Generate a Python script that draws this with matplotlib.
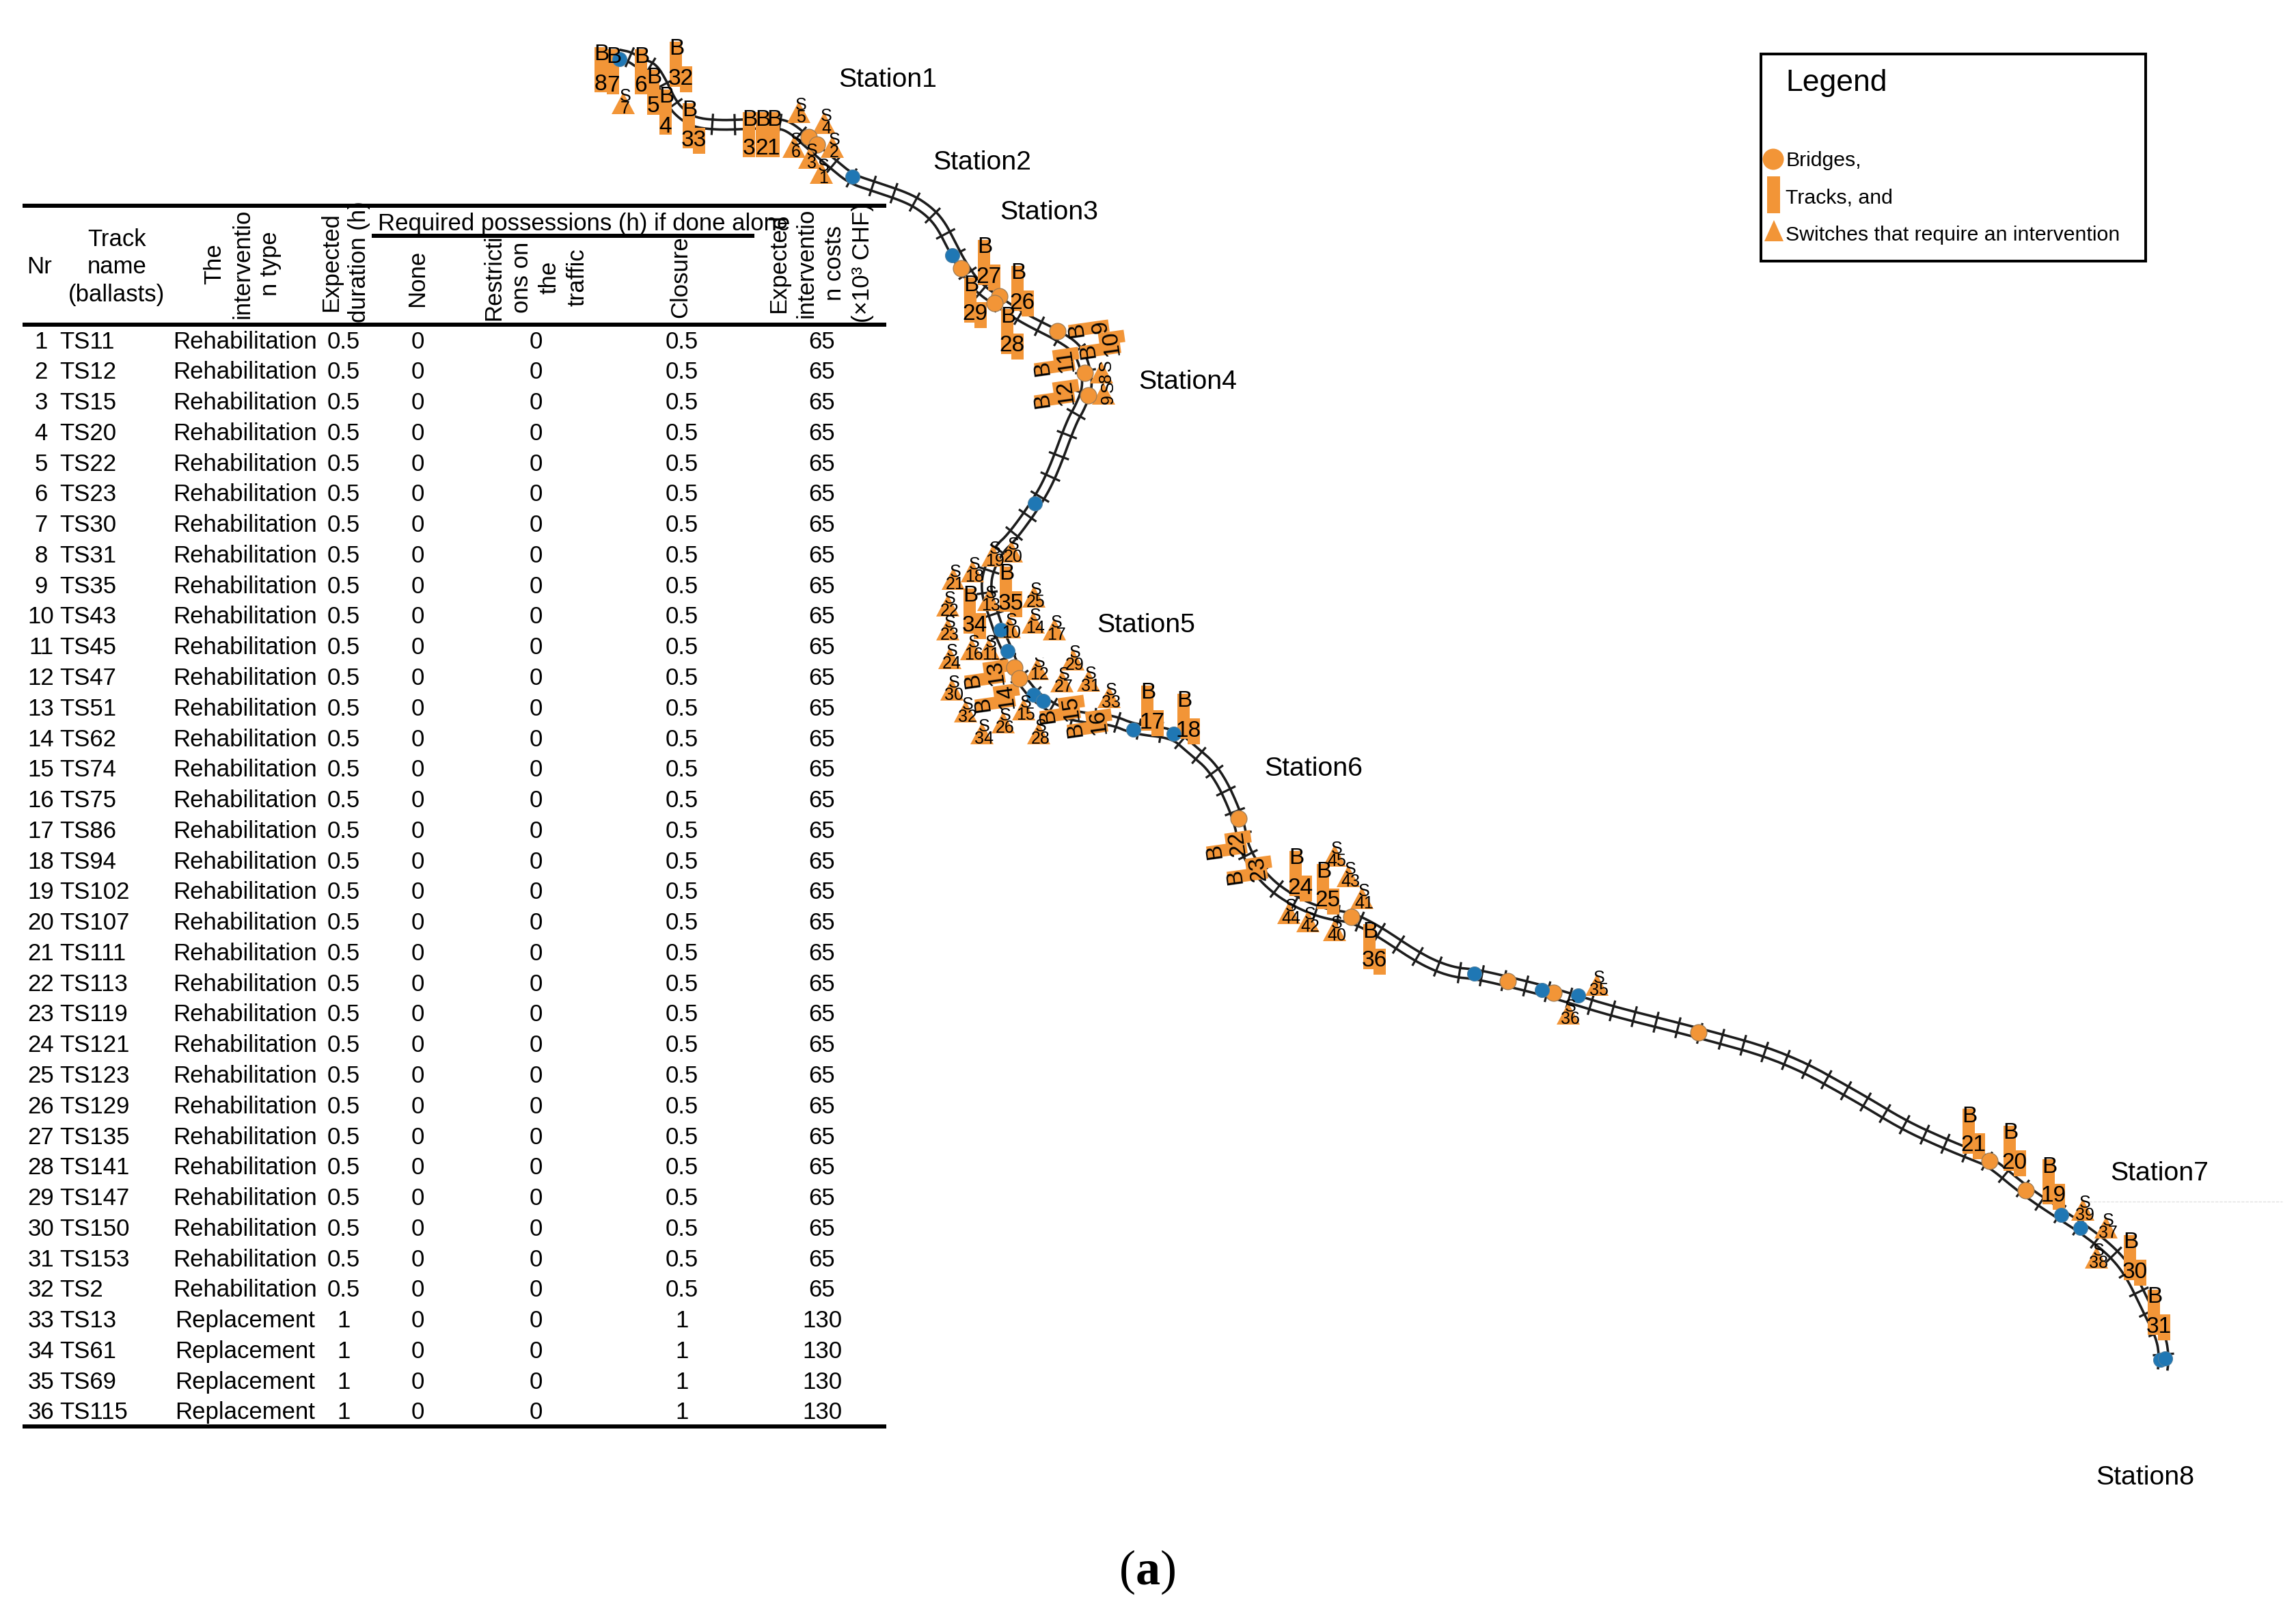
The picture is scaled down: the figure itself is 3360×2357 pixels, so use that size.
import numpy as np
import matplotlib
matplotlib.use("Agg")
import matplotlib.pyplot as plt
from matplotlib.patches import Polygon, Rectangle, Circle

plt.rcParams["font.family"] = ["Liberation Sans", "DejaVu Sans"]

ORANGE = "#F29537"
BLUE = "#1F77B4"
PX = 0.72  # one pixel in points at dpi 100

# table
track_names = ["TS11", "TS12", "TS15", "TS20", "TS22", "TS23", "TS30", "TS31", "TS35", "TS43",
               "TS45", "TS47", "TS51", "TS62", "TS74", "TS75", "TS86", "TS94", "TS102", "TS107",
               "TS111", "TS113", "TS119", "TS121", "TS123", "TS129", "TS135", "TS141", "TS147",
               "TS150", "TS153", "TS2", "TS13", "TS61", "TS69", "TS115"]
intervention = ["Rehabilitation"] * 32 + ["Replacement"] * 4
duration = ["0.5"] * 32 + ["1"] * 4
poss_none = ["0"] * 36
poss_restrict = ["0"] * 36
poss_closure = ["0.5"] * 32 + ["1"] * 4
costs = ["65"] * 32 + ["130"] * 4

# railway line, picture pixels
track_x = [907, 922, 936, 955, 970, 984, 1001, 1020, 1054, 1085, 1138, 1158, 1184, 1219, 1246, 1280,
           1330, 1357, 1376, 1393, 1407, 1430, 1463, 1500, 1547, 1577, 1588, 1592, 1580, 1568, 1539,
           1515, 1480, 1462, 1445, 1443, 1453, 1463, 1475, 1485, 1497, 1513, 1527, 1547, 1583, 1627,
           1660, 1717, 1740, 1780, 1813, 1820, 1850, 1890, 1937, 1978, 2017, 2063, 2097, 2130, 2158,
           2207, 2274, 2357, 2486, 2614, 2722, 2786, 2843, 2887, 2913, 2963, 3017, 3047, 3090, 3117,
           3143, 3163, 3167, 3165]
track_y = [80, 83, 93, 98, 123, 153, 170, 180, 183, 182, 180, 187, 210, 240, 262, 273,
           290, 307, 327, 360, 387, 420, 443, 467, 490, 510, 537, 567, 597, 617, 696,
           739, 787, 803, 837, 867, 897, 927, 953, 980, 997, 1017, 1027, 1040, 1050, 1053,
           1067, 1073, 1093, 1127, 1198, 1243, 1287, 1317, 1337, 1342, 1362, 1393, 1412, 1423, 1425,
           1436, 1453, 1479, 1511, 1547, 1607, 1646, 1672, 1690, 1700, 1742, 1778, 1797, 1830, 1863,
           1917, 1957, 1988, 2003]

# bridges
orange_x = [1184, 1196, 1407, 1463, 1456, 1548, 1588, 1593, 1485, 1492, 1813, 1978, 2207, 2274, 2486, 2912, 2965]
orange_y = [201, 212, 393, 434, 444, 485, 546, 579, 977, 993, 1198, 1342, 1436, 1453, 1511, 1699, 1742]
blue_x = [1248, 907, 1394, 1515, 1465, 1475, 1513, 1527, 1659, 1718, 2158, 2257, 2310, 3017, 3045, 3162, 3169]
blue_y = [259, 87, 374, 737, 922, 953, 1017, 1026, 1068, 1074, 1425, 1449, 1457, 1778, 1797, 1990, 1988]

# track blocks: label, x and y of the letter
track_labels = ["8", "7", "6", "5", "4", "32", "33", "3", "2", "1", "27", "29", "26", "28", "35", "34",
                "17", "18", "24", "25", "36", "21", "20", "19", "30", "31"]
track_lx = [880, 898, 939, 957, 975, 990, 1009, 1097, 1116, 1133, 1441, 1421, 1490, 1475, 1473, 1420,
            1680, 1733, 1897, 1937, 2005, 2882, 2942, 2999, 3118, 3153]
track_ly = [80, 83, 83, 113, 142, 72, 162, 175, 175, 175, 362, 417, 400, 463, 840, 872,
            1014, 1026, 1256, 1275, 1363, 1633, 1658, 1707, 1818, 1898]
turned_labels = ["9", "10", "11", "12", "13", "14", "15", "16", "22", "23"]
turned_lx = [1575, 1592, 1525, 1525, 1423, 1438, 1533, 1573, 1777, 1807]
turned_ly = [482, 513, 538, 585, 995, 1030, 1047, 1067, 1245, 1282]

# switch triangles: label, centre of base
switch_labels = ["7", "5", "4", "6", "2", "3", "1", "19", "20", "18", "21", "22", "23", "13", "25", "14", "17",
                 "10", "16", "11", "24", "12", "29", "27", "31", "30", "33", "32", "15", "26", "34", "28",
                 "45", "43", "41", "44", "42", "40", "35", "36", "39", "37", "38"]
switch_x = [912, 1169, 1206, 1162, 1218, 1185, 1202, 1453, 1480, 1423, 1395, 1387, 1387, 1447, 1513, 1512, 1543,
            1477, 1422, 1447, 1390, 1518, 1570, 1554, 1593, 1393, 1623, 1413, 1498, 1468, 1437, 1520,
            1953, 1973, 1993, 1886, 1914, 1953, 2337, 2295, 3048, 3082, 3068]
switch_y = [167, 180, 196, 231, 231, 247, 269, 829, 823, 852, 863, 902, 937, 894, 889, 927, 937,
            934, 966, 966, 979, 995, 981, 1013, 1012, 1025, 1036, 1057, 1054, 1073, 1089, 1089,
            1268, 1298, 1330, 1352, 1364, 1377, 1457, 1499, 1786, 1812, 1856]
turned_switch_labels = ["8", "9"]
turned_switch_x = [1612, 1615]
turned_switch_y = [561, 592]

station_names = ["Station1", "Station2", "Station3", "Station4", "Station5", "Station6", "Station7", "Station8"]
station_x = [1299, 1437, 1535, 1738, 1677, 1922, 3160, 3139]
station_y = [117, 238, 311, 559, 915, 1125, 1717, 2162]


def smooth_path(xs, ys, step=3.0):
    pts = np.column_stack([xs, ys]).astype(float)
    for _ in range(3):
        q = 0.75 * pts[:-1] + 0.25 * pts[1:]
        r = 0.25 * pts[:-1] + 0.75 * pts[1:]
        mid = np.empty((len(q) * 2, 2))
        mid[0::2] = q
        mid[1::2] = r
        pts = np.vstack([pts[0], mid, pts[-1]])
    s = np.r_[0, np.cumsum(np.hypot(*np.diff(pts, axis=0).T))]
    t = np.arange(0, s[-1], step)
    return np.column_stack([np.interp(t, s, pts[:, 0]), np.interp(t, s, pts[:, 1])])


def draw_track(ax):
    pts = smooth_path(track_x, track_y)
    d = np.gradient(pts, axis=0)
    n = np.column_stack([-d[:, 1], d[:, 0]]) / np.hypot(d[:, 0], d[:, 1])[:, None]
    for side in (-7, 7):
        rail = pts + side * n
        ax.plot(rail[:, 0], rail[:, 1], color="#1c1c1c", lw=3.6 * PX, zorder=1)
    for i in range(5, len(pts), 11):
        a = pts[i] - 14 * n[i]
        b = pts[i] + 14 * n[i]
        ax.plot([a[0], b[0]], [a[1], b[1]], color="#1c1c1c", lw=3.2 * PX, zorder=1)


def local(xb, yb, dx, dy, angle):
    # local offset to picture pixels, y goes down
    c, s = np.cos(np.radians(angle)), np.sin(np.radians(angle))
    return xb + dx * c + dy * s, yb - dx * s + dy * c


def box(ax, xb, yb, x0, x1, y0, y1, angle):
    corners = [local(xb, yb, a, b, angle) for a, b in [(x0, y0), (x1, y0), (x1, y1), (x0, y1)]]
    ax.add_patch(Polygon(corners, closed=True, fc=ORANGE, ec="none", zorder=2))


def track_block(ax, label, xb, yb, angle=0):
    # turned blocks sit a bit tighter than the upright ones
    gap = 36 if angle else 43
    box(ax, xb, yb, -10, 8, -11, gap + 12, angle)
    if len(label) > 1:
        box(ax, xb, yb, 5, 23, gap - 18, gap + 20, angle)
    nx, ny = local(xb, yb, 6 if len(label) > 1 else -1, gap, angle)
    ax.text(xb, yb, "B", fontsize=24, ha="center", va="center", rotation=angle, zorder=5)
    ax.text(nx, ny, label, fontsize=24, ha="center", va="center", rotation=angle, zorder=5)


def switch(ax, label, x, y, turned=False):
    ax.add_patch(Polygon([(x - 17, y), (x + 17, y), (x, y - 32)], closed=True, fc=ORANGE, ec="none", zorder=2))
    rot = 90 if turned else 0
    ox = 7 if turned else 3
    ax.text(x + ox, y - 26, "S", fontsize=18, ha="center", va="center", rotation=rot, zorder=5)
    ax.text(x + ox, y - 8, label, fontsize=18, ha="center", va="center", rotation=rot, zorder=5)


def draw_table(ax):
    rule = dict(color="black", lw=6 * PX, solid_capstyle="butt", zorder=6)
    ax.plot([33, 1297], [301, 301], **rule)
    ax.plot([33, 1297], [475, 475], **rule)
    ax.plot([33, 1297], [2087, 2087], **rule)
    ax.plot([544, 1104], [345, 345], **rule)

    fs = 25
    head = dict(fontsize=fs, ha="center", va="center", multialignment="center", zorder=7, linespacing=1.3)
    ax.text(58, 390, "Nr", **head)
    ax.text(171, 391, "Track\nname\n(ballasts)", **head)
    ax.text(355, 386, "The\ninterventio\nn type", rotation=90, **head)
    ax.text(505, 383, "Expected\nduration (h)", rotation=90, **head)
    ax.text(611, 407, "None", rotation=90, **head)
    ax.text(784, 406, "Restricti\nons on\nthe\ntraffic", rotation=90, **head)
    ax.text(996, 405, "Closure", rotation=90, **head)
    ax.text(1201, 385, "Expected\ninterventio\nn costs\n(\u00d710\u00b3 CHF)", rotation=90, **head)
    ax.text(553, 327, "Required possessions (h) if done alone", fontsize=fs, ha="left", va="center", zorder=7)

    for i in range(len(track_names)):
        y = 500 + i * 44.77
        cell = dict(fontsize=fs, va="center", zorder=7)
        ax.text(60, y, str(i + 1), ha="center", **cell)
        ax.text(87, y, track_names[i], ha="left", **cell)
        ax.text(359, y, intervention[i], ha="center", **cell)
        ax.text(503, y, duration[i], ha="center", **cell)
        ax.text(611, y, poss_none[i], ha="center", **cell)
        ax.text(784, y, poss_restrict[i], ha="center", **cell)
        ax.text(998, y, poss_closure[i], ha="center", **cell)
        ax.text(1203, y, costs[i], ha="center", **cell)


def draw_legend(ax):
    ax.add_patch(Rectangle((2577, 79), 563, 303, fc="white", ec="black", lw=4 * PX, zorder=2))
    ax.text(2613, 122, "Legend", fontsize=32, ha="left", va="center", zorder=5)
    ax.add_patch(Circle((2595, 233), 15.5, fc=ORANGE, ec="none", zorder=3))
    ax.add_patch(Rectangle((2586, 258), 19, 54, fc=ORANGE, ec="none", zorder=3))
    ax.add_patch(Polygon([(2582, 353), (2610, 353), (2596, 322)], closed=True, fc=ORANGE, ec="none", zorder=3))
    for text, y in zip(["Bridges,", "Tracks, and", "Switches that require an intervention"], [235, 290, 344]):
        ax.text(2613, y, text, fontsize=21.8, ha="left", va="center", zorder=5)


fig = plt.figure(figsize=(33.6, 23.57), dpi=100)
ax = fig.add_axes([0, 0, 1, 1])
ax.set_xlim(0, 3360)
ax.set_ylim(2357, 0)
ax.axis("off")

draw_track(ax)
ax.plot([3057, 3340], [1758, 1758], color="#dddddd", lw=1.2 * PX, ls="--", zorder=0)

for label, x, y in zip(track_labels, track_lx, track_ly):
    track_block(ax, label, x, y)
for label, x, y in zip(turned_labels, turned_lx, turned_ly):
    track_block(ax, label, x, y, angle=98)
for label, x, y in zip(switch_labels, switch_x, switch_y):
    switch(ax, label, x, y)
for label, x, y in zip(turned_switch_labels, turned_switch_x, turned_switch_y):
    switch(ax, label, x, y, turned=True)

for x, y in zip(orange_x, orange_y):
    ax.add_patch(Circle((x, y), 12, fc=ORANGE, ec="#9a7a55", lw=1.2 * PX, zorder=4))
for x, y in zip(blue_x, blue_y):
    ax.add_patch(Circle((x, y), 10.5, fc=BLUE, ec="#4f7f9f", lw=1 * PX, zorder=4))

# white patch left over near Station5
ax.add_patch(Rectangle((1487, 937), 80, 25, fc="white", ec="none", zorder=6))

for name, x, y in zip(station_names, station_x, station_y):
    ax.text(x, y, name, fontsize=28.3, ha="center", va="center", zorder=5)

draw_table(ax)
draw_legend(ax)

cap = dict(family="Liberation Serif", fontsize=52, ha="center", va="center", zorder=5)
ax.text(1650, 2300, "(", **cap)
ax.text(1680, 2300, "a", fontweight="bold", **cap)
ax.text(1710, 2300, ")", **cap)

fig.savefig("out.png", dpi=100)
